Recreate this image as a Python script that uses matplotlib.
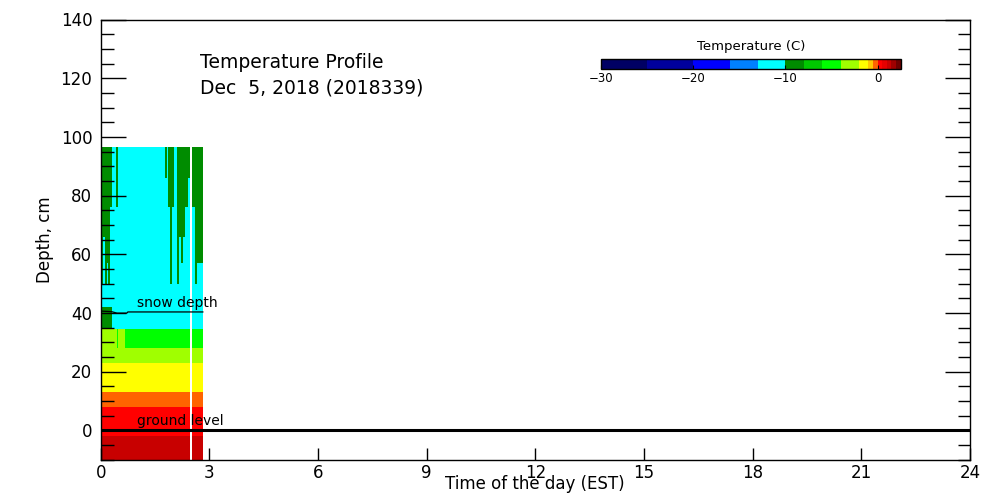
import numpy as np
import matplotlib
matplotlib.use("Agg")
import matplotlib.pyplot as plt
from matplotlib.colors import ListedColormap, BoundaryNorm
from matplotlib.ticker import MultipleLocator

# colour scale of the temperature bar (deg C)
levels = [-30, -25, -20, -16, -13, -10, -8, -6, -4, -2, -1, -0.5, 0, 0.5, 1, 1.5, 2, 2.5]
level_colors = [
    "#000064", "#00009c", "#0000ff", "#0080ff", "#00ffff",
    "#008c00", "#00c800", "#00ff00", "#a0ff00", "#ffff00",
    "#ffc800", "#ff6400", "#ff0000", "#e60000", "#c80000",
    "#a00000", "#6e0000",
]

# time segments (hours, EST) and sensor layer edges (cm)
time_edges = [0.0, 0.055, 0.11, 0.165, 0.2, 0.26, 0.30, 0.31, 0.42, 0.46, 0.49,
              0.67, 1.77, 1.82, 1.86, 1.90, 1.96, 2.01, 2.10, 2.16, 2.21, 2.27,
              2.33, 2.41, 2.47, 2.52, 2.61, 2.66, 2.77, 2.82]
depth_edges = [-10, -2, 8, 13, 23, 28, 34.5, 42, 50, 57, 66, 76, 86, 96.5]

nan = np.nan
# temperature per layer (bottom -> top), one value per time segment
temp_rows = [
    [1.2] * 24 + [nan] + [1.2] * 4,                                   # -10..-2
    [0.2] * 24 + [nan] + [0.2] * 4,                                   # -2..8
    [-0.3] * 24 + [nan] + [-0.3] * 4,                                 # 8..13
    [-1.5] * 24 + [nan] + [-1.5] * 4,                                 # 13..23
    [-3] * 24 + [nan] + [-3] * 4,                                     # 23..28
    [-3] * 9 + [-5, -3] + [-5] * 13 + [nan] + [-5] * 4,               # 28..34.5
    [-9] * 6 + [-11.5] * 18 + [nan] + [-11.5] * 4,                    # 34.5..42
    [-11.5] * 24 + [nan] + [-11.5] * 4,                               # 42..50
    [-9, -11.5, -9, -11.5, -9, -11.5, -11.5, -11.5, -11.5, -11.5, -11.5,
     -11.5, -11.5, -11.5, -11.5, -9, -11.5, -11.5, -9, -11.5, -11.5, -11.5,
     -11.5, -11.5, nan, -11.5, -9, -11.5, -11.5],                     # 50..57
    [-9, -11.5, -9, -9, -9, -11.5, -11.5, -11.5, -11.5, -11.5, -11.5,
     -11.5, -11.5, -11.5, -11.5, -9, -11.5, -11.5, -9, -11.5, -9, -11.5,
     -11.5, -11.5, nan, -11.5, -9, -9, -9],                           # 57..66
    [-9, -9, -9, -9, -9, -11.5, -11.5, -11.5, -11.5, -11.5, -11.5,
     -11.5, -11.5, -11.5, -11.5, -9, -11.5, -11.5, -9, -9, -9, -9,
     -11.5, -11.5, nan, -11.5, -9, -9, -9],                           # 66..76
    [-9, -9, -9, -9, -9, -9, -9, -11.5, -9, -9, -11.5,
     -11.5, -11.5, -11.5, -9, -9, -9, -11.5, -9, -9, -9, -9,
     -9, -11.5, nan, -9, -9, -9, -9],                                 # 76..86
    [-9, -9, -9, -9, -9, -9, -9, -11.5, -9, -9, -11.5,
     -11.5, -9, -11.5, -9, -9, -9, -11.5, -9, -9, -9, -9,
     -9, -9, nan, -9, -9, -9, -9],                                    # 86..96.5
]

snow_time = [0.0, 0.3, 0.45, 0.72, 0.75, 2.82]
snow_depth = [40.6, 40.4, 39.9, 39.9, 40.3, 40.3]

cmap = ListedColormap(level_colors)
cmap.set_bad("white")
norm = BoundaryNorm(levels, cmap.N)

fig = plt.figure(figsize=(10, 5), dpi=100)
ax = fig.add_axes([0.1007, 0.081, 0.8693, 0.88])

temps = np.ma.masked_invalid(np.array(temp_rows, dtype=float))
ax.pcolormesh(time_edges, depth_edges, temps, cmap=cmap, norm=norm)

ax.plot(snow_time, snow_depth, color="black", lw=0.9)
ax.axhline(0, color="black", lw=2.2)
ax.text(1.0, 40.9, "snow depth", fontsize=10, va="bottom")
ax.text(1.0, 0.6, "ground level", fontsize=10, va="bottom")

ax.set_xlim(0, 24)
ax.set_ylim(-10, 140)
ax.xaxis.set_major_locator(MultipleLocator(3))
ax.yaxis.set_major_locator(MultipleLocator(20))
ax.yaxis.set_minor_locator(MultipleLocator(5))
ax.tick_params(axis="y", which="major", direction="in", length=18, width=1,
               right=True, labelsize=12, pad=6)
ax.tick_params(axis="y", which="minor", direction="in", length=9, width=1, right=True)
ax.tick_params(axis="x", which="major", direction="in", length=9, width=1,
               labelsize=12, pad=3)
for s in ax.spines.values():
    s.set_linewidth(1)

fig.text(0.535, 1 - 484 / 500, "Time of the day (EST)", fontsize=12,
         ha="center", va="center")
fig.text(0.045, 1 - 240 / 500, "Depth, cm", fontsize=12, rotation=90,
         ha="center", va="center")
fig.text(0.2, 1 - 63 / 500, "Temperature Profile", fontsize=13.5, va="center")
fig.text(0.2, 1 - 88 / 500, "Dec  5, 2018 (2018339)", fontsize=13.5, va="center")

cax = fig.add_axes([0.6007, 1 - 69.3 / 500, 0.300, 10 / 500])
cb = fig.colorbar(plt.cm.ScalarMappable(norm=norm, cmap=cmap), cax=cax,
                  orientation="horizontal", spacing="proportional",
                  ticks=[-30, -20, -10, 0])
cb.minorticks_off()
cb.set_ticklabels(["\u221230", "\u221220", "\u221210", "0"])
cb.outline.set_linewidth(1)
cax.tick_params(direction="in", length=3, labelsize=8.5, pad=2)
cax.set_title("Temperature (C)", fontsize=9.5, pad=7)

fig.savefig("out.png", dpi=100)
